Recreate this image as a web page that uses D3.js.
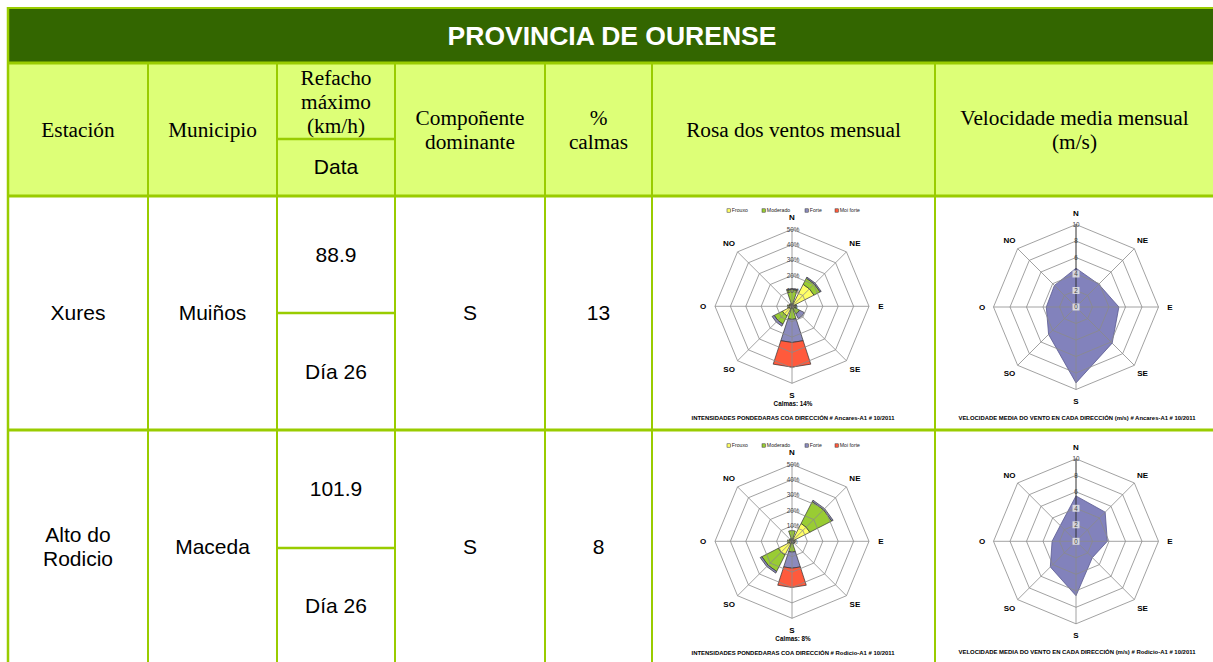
<!DOCTYPE html>
<html>
<head>
<meta charset="utf-8">
<script src="https://cdn.jsdelivr.net/npm/d3@7"></script>
<style>
  body { margin: 0; background: #fff; }
  svg { display: block; }
</style>
</head>
<body>
<div id="chart"></div>
<script>
// table texts
const title = "PROVINCIA DE OURENSE";
const headerLabels = [["Estación"], ["Municipio"], ["Refacho", "máximo", "(km/h)"], ["Compoñente", "dominante"], ["%", "calmas"], ["Rosa dos ventos mensual"], ["Velocidade media mensual", "(m/s)"]];
const dataLabel = "Data";

const estacions = [["Xures"], ["Alto do", "Rodicio"]];
const municipios = ["Muiños", "Maceda"];
const refacho = ["88.9", "101.9"];
const refachoDia = ["Día 26", "Día 26"];
const componente = ["S", "S"];
const calmas = ["13", "8"];
const codigos = ["Ancares-A1", "Rodicio-A1"];
const calmasRosa = ["14%", "8%"];
const mes = "10/2011";

// wind directions and intensity classes
const dirs = ["N", "NE", "E", "SE", "S", "SO", "O", "NO"];
const classes = ["Frouxo", "Moderado", "Forte", "Moi forte"];

// rose (%) per direction N..NO, one array per class
const xuresFrouxo   = [2, 16, 2, 1, 1.5, 7, 2, 1];
const xuresModerado = [9, 4.5, 1, 4.5, 7, 6, 1, 1];
const xuresForte    = [0.5, 0.8, 0, 3.5, 15, 1.5, 0, 0];
const xuresMoiForte = [0, 0, 0, 0, 16, 0, 0, 0];

const rodicioFrouxo   = [2, 13, 1, 0.5, 1, 10, 1, 1];
const rodicioModerado = [5, 16, 1, 1, 6, 12, 2, 1];
const rodicioForte    = [0, 1, 0, 0.5, 10.5, 1.2, 0, 0];
const rodicioMoiForte = [0, 0, 0, 0, 12.5, 0, 0, 0];

// mean speed (m/s) per direction N..NO
const speedXures   = [4.7, 3.9, 5.2, 6.2, 9.2, 4.7, 3.6, 3.7];
const speedRodicio = [5.5, 5.0, 3.8, 2.8, 6.6, 4.4, 2.9, 2.7];

// axis ticks
const roseTicks = [0, 10, 20, 30, 40, 50];
const speedTicks = [0, 2, 4, 6, 8, 10];

// ---------------------------------------------------------------
const width = 1213, height = 662;
const lime = "#99cc00";
const cols = [8, 148, 277, 395, 545, 652, 935, 1220];
const rowTop = [196, 430];
const rowH = 234;

const svg = d3.select("#chart").append("svg")
    .attr("width", width)
    .attr("height", height)
    .style("font-family", "'Liberation Sans', Arial, sans-serif");

// backgrounds
svg.append("rect").attr("x", 8).attr("y", 8).attr("width", width).attr("height", 55).attr("fill", "#336600");
svg.append("rect").attr("x", 8).attr("y", 63).attr("width", width).attr("height", 133).attr("fill", "#ddff77");

svg.append("text")
    .attr("x", 612).attr("y", 36).attr("dy", "0.35em")
    .attr("text-anchor", "middle")
    .attr("fill", "#fff")
    .attr("font-size", 26.5).attr("font-weight", "bold")
    .text(title);

// header texts
const headerY = [[130], [130], [78, 102, 126], [118, 142], [118, 142], [130], [118, 142]];
headerLabels.forEach((lines, i) => {
    const cx = (cols[i] + cols[i + 1]) / 2 + (i === 6 ? -3 : 0);
    lines.forEach((t, j) => {
        svg.append("text")
            .attr("x", cx).attr("y", headerY[i][j]).attr("dy", "0.35em")
            .attr("text-anchor", "middle")
            .attr("font-family", "'Liberation Serif', 'Times New Roman', serif")
            .attr("font-size", 21.3)
            .text(t);
    });
});
svg.append("text")
    .attr("x", (cols[2] + cols[3]) / 2).attr("y", 167).attr("dy", "0.35em")
    .attr("text-anchor", "middle").attr("font-size", 21)
    .text(dataLabel);

// body texts
function cellText(x, y, t) {
    svg.append("text")
        .attr("x", x).attr("y", y).attr("dy", "0.35em")
        .attr("text-anchor", "middle").attr("font-size", 21)
        .text(t);
}
rowTop.forEach((top, k) => {
    const mid = top + rowH / 2;
    const cx = i => (cols[i] + cols[i + 1]) / 2;
    estacions[k].forEach((t, j) => cellText(cx(0), mid + (j - (estacions[k].length - 1) / 2) * 24, t));
    cellText(cx(1), mid, municipios[k]);
    cellText(cx(2), top + rowH / 4 + 0.5, refacho[k]);
    cellText(cx(2), top + rowH * 3 / 4 + 0.5, refachoDia[k]);
    cellText(cx(3), mid, componente[k]);
    cellText(cx(4), mid, calmas[k]);
});

// grid lines of the table
const grid = svg.append("g").attr("stroke", lime);
grid.append("line").attr("x1", 8).attr("x2", width).attr("y1", 8).attr("y2", 8).attr("stroke-width", 2);
[63, 196, 430].forEach(y => {
    grid.append("line").attr("x1", 8).attr("x2", width).attr("y1", y).attr("y2", y).attr("stroke-width", 3);
});
grid.append("line").attr("x1", 8).attr("x2", 8).attr("y1", 7).attr("y2", height).attr("stroke-width", 2.5);
cols.slice(1, 7).forEach(x => {
    grid.append("line").attr("x1", x).attr("x2", x).attr("y1", 63).attr("y2", height).attr("stroke-width", 2);
});
[139, 313, 548].forEach(y => {
    grid.append("line").attr("x1", cols[2]).attr("x2", cols[3]).attr("y1", y).attr("y2", y).attr("stroke-width", 2.5);
});

// ---------------------------------------------------------------
// wind rose (stacked wedges)
const classColors = ["#ffff66", "#99cc33", "#8b8bbd", "#ff5a3c"];
const step = 2 * Math.PI / dirs.length;
const halfW = 18 * Math.PI / 180;

const radial = d3.lineRadial()
    .angle(d => d[0])
    .radius(d => d[1])
    .curve(d3.curveLinearClosed);

function octagon(r) {
    return radial(dirs.map((d, i) => [i * step, r]));
}

function drawRose(cx, cy, series, code, calm) {
    const g = svg.append("g").attr("transform", `translate(${cx},${cy})`);
    const r = d3.scaleLinear().domain([0, d3.max(roseTicks)]).range([0, 77]);

    // table for d3.stack
    const table = dirs.map((d, i) => {
        const o = { dir: d };
        classes.forEach((c, j) => o[c] = series[j][i]);
        return o;
    });
    const stacked = d3.stack().keys(classes)(table);

    // wedges
    stacked.forEach((layer, j) => {
        g.append("g").selectAll("path")
            .data(layer.filter(d => d[1] > d[0]))
            .join("path")
            .attr("d", d => {
                const a = dirs.indexOf(d.data.dir) * step;
                const r0 = r(d[0]), r1 = r(d[1]);
                return radial([[a - halfW, r0], [a, r0], [a + halfW, r0], [a + halfW, r1], [a, r1], [a - halfW, r1]]);
            })
            .attr("fill", classColors[j])
            .attr("stroke", "#333")
            .attr("stroke-width", 0.7);
    });

    // grid on top
    const gg = g.append("g").attr("fill", "none").attr("stroke", "#8a8a8a").attr("stroke-width", 0.8);
    roseTicks.filter(t => t > 0).forEach(t => gg.append("path").attr("d", octagon(r(t))));
    dirs.forEach((d, i) => {
        gg.append("path").attr("d", d3.lineRadial()([[0, 0], [i * step, r(d3.max(roseTicks))]]));
    });

    // tick labels
    roseTicks.forEach(t => {
        g.append("text")
            .attr("x", 1).attr("y", -r(t)).attr("dy", "0.35em")
            .attr("text-anchor", "middle")
            .attr("font-size", 6.3).attr("fill", "#444")
            .text(t + "%");
    });

    // direction labels
    dirs.forEach((d, i) => {
        const a = i * step, rr = 89;
        g.append("text")
            .attr("x", rr * Math.sin(a)).attr("y", -rr * Math.cos(a)).attr("dy", "0.35em")
            .attr("text-anchor", "middle")
            .attr("font-size", 8).attr("font-weight", "bold")
            .text(d);
    });

    // legend
    const lx = [-65, -30, 13, 43];
    classes.forEach((c, j) => {
        g.append("rect")
            .attr("x", lx[j]).attr("y", -97.5).attr("width", 3.4).attr("height", 3.4)
            .attr("fill", classColors[j]).attr("stroke", "#333").attr("stroke-width", 0.5);
        g.append("text")
            .attr("x", lx[j] + 4.8).attr("y", -95.8).attr("dy", "0.35em")
            .attr("font-size", 5.2).attr("fill", "#222")
            .text(c);
    });

    g.append("text")
        .attr("x", 1).attr("y", 97).attr("dy", "0.35em")
        .attr("text-anchor", "middle")
        .attr("font-size", 6.3).attr("font-weight", "bold")
        .text("Calmas: " + calm);

    g.append("text")
        .attr("x", 1).attr("y", 112).attr("dy", "0.35em")
        .attr("text-anchor", "middle")
        .attr("font-size", 5.8).attr("font-weight", "bold")
        .attr("textLength", 203).attr("lengthAdjust", "spacingAndGlyphs")
        .text(`INTENSIDADES PONDEDARAS COA DIRECCIÓN # ${code} # ${mes}`);
}

// mean speed radar
function drawSpeed(cx, cy, values, code) {
    const g = svg.append("g").attr("transform", `translate(${cx},${cy})`);
    const r = d3.scaleLinear().domain([0, d3.max(speedTicks)]).range([0, 82.5]);

    const area = d3.lineRadial()
        .angle((d, i) => i * step)
        .radius(d => r(d))
        .curve(d3.curveLinearClosed);

    g.append("path")
        .attr("d", area(values))
        .attr("fill", "#8282bc")
        .attr("stroke", "#5a5a90")
        .attr("stroke-width", 0.8);

    const gg = g.append("g").attr("fill", "none").attr("stroke", "#8a8a8a").attr("stroke-width", 0.8);
    speedTicks.filter(t => t > 0).forEach(t => gg.append("path").attr("d", octagon(r(t))));
    dirs.forEach((d, i) => {
        gg.append("path")
            .attr("d", d3.lineRadial()([[0, 0], [i * step, r(d3.max(speedTicks))]]))
            .attr("stroke", i === 0 ? "#333" : "#8a8a8a")
            .attr("stroke-width", i === 0 ? 1 : 0.8);
    });

    speedTicks.forEach(t => {
        g.append("rect")
            .attr("x", -3.5).attr("y", -r(t) - 3.5).attr("width", 7).attr("height", 7)
            .attr("fill", "#e6e6e6").attr("opacity", t < 6 ? 0.85 : 0);
        g.append("text")
            .attr("x", 0).attr("y", -r(t)).attr("dy", "0.35em")
            .attr("text-anchor", "middle")
            .attr("font-size", 6.3).attr("fill", "#444")
            .text(t);
    });

    dirs.forEach((d, i) => {
        const a = i * step, rr = 94;
        g.append("text")
            .attr("x", rr * Math.sin(a)).attr("y", -rr * Math.cos(a)).attr("dy", "0.35em")
            .attr("text-anchor", "middle")
            .attr("font-size", 8).attr("font-weight", "bold")
            .text(d);
    });

    g.append("text")
        .attr("x", 1).attr("y", 111).attr("dy", "0.35em")
        .attr("text-anchor", "middle")
        .attr("font-size", 5.6).attr("font-weight", "bold")
        .attr("textLength", 237).attr("lengthAdjust", "spacingAndGlyphs")
        .text(`VELOCIDADE MEDIA DO VENTO EN CADA DIRECCIÓN (m/s) # ${code} # ${mes}`);
}

drawRose(792, rowTop[0] + 110.3, [xuresFrouxo, xuresModerado, xuresForte, xuresMoiForte], codigos[0], calmasRosa[0]);
drawRose(792, rowTop[1] + 111.3, [rodicioFrouxo, rodicioModerado, rodicioForte, rodicioMoiForte], codigos[1], calmasRosa[1]);
drawSpeed(1076, rowTop[0] + 111, speedXures, codigos[0]);
drawSpeed(1076, rowTop[1] + 111.3, speedRodicio, codigos[1]);
</script>
</body>
</html>
